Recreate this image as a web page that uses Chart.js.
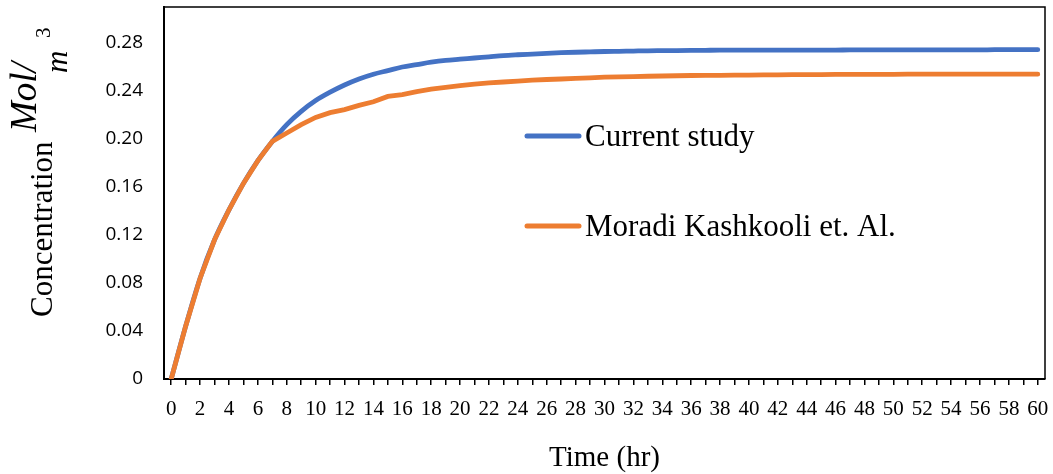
<!DOCTYPE html>
<html>
<head>
<meta charset="utf-8">
<script src="https://cdn.jsdelivr.net/npm/chart.js@4"></script>
<style>
  html, body { margin: 0; padding: 0; background: #fff; }
  #wrap { width: 1053px; height: 474px; position: relative; }
</style>
</head>
<body>
<div id="wrap"><canvas id="concChart"></canvas></div>
<script>
// time (hr), one category per hour
const timeHours = [0, 1, 2, 3, 4, 5, 6, 7, 8, 9, 10, 11, 12, 13, 14, 15, 16, 17, 18, 19, 20,
    21, 22, 23, 24, 25, 26, 27, 28, 29, 30, 31, 32, 33, 34, 35, 36, 37, 38, 39, 40,
    41, 42, 43, 44, 45, 46, 47, 48, 49, 50, 51, 52, 53, 54, 55, 56, 57, 58, 59, 60];

// Current study
const currentStudy = [0, 0.044, 0.084, 0.116, 0.141, 0.163, 0.182, 0.198, 0.212, 0.223, 0.232,
    0.239, 0.245, 0.25, 0.254, 0.257, 0.26, 0.262, 0.264, 0.2655, 0.2665,
    0.2675, 0.2685, 0.2695, 0.2702, 0.2708, 0.2714, 0.2719, 0.2723, 0.2726, 0.2729,
    0.2731, 0.2733, 0.2735, 0.2736, 0.2737, 0.2738, 0.2739, 0.274, 0.274, 0.274,
    0.274, 0.274, 0.274, 0.2741, 0.2741, 0.2741, 0.2742, 0.2742, 0.2742, 0.2742,
    0.2742, 0.2743, 0.2743, 0.2743, 0.2743, 0.2743, 0.2744, 0.2744, 0.2744, 0.2744];

// Moradi Kashkooli et. Al.
const moradiKashkooli = [0, 0.044, 0.084, 0.116, 0.141, 0.163, 0.182, 0.198, 0.205, 0.212, 0.218,
    0.222, 0.2245, 0.228, 0.231, 0.2355, 0.237, 0.2395, 0.2415, 0.243, 0.2445,
    0.2457, 0.2467, 0.2475, 0.2483, 0.249, 0.2496, 0.25, 0.2505, 0.251, 0.2515,
    0.2518, 0.252, 0.2523, 0.2525, 0.2527, 0.2529, 0.253, 0.2531, 0.2532, 0.2533,
    0.2534, 0.2535, 0.2536, 0.2537, 0.2537, 0.2538, 0.2538, 0.2539, 0.2539, 0.2539,
    0.254, 0.254, 0.254, 0.254, 0.254, 0.254, 0.254, 0.254, 0.254, 0.254];

const yTicks = [0, 0.04, 0.08, 0.12, 0.16, 0.2, 0.24, 0.28];
const yTickLabels = ["0", "0.04", "0.08", "0.12", "0.16", "0.20", "0.24", "0.28"];

const seriesNames = ["Current study", "Moradi Kashkooli et. Al."];
const seriesColors = ["#4472C4", "#ED7D31"];

function noPadding(scale) {
    scale.paddingTop = 0;
    scale.paddingBottom = 0;
    scale.paddingLeft = 0;
    scale.paddingRight = 0;
}

// рамка вокруг области графика
const frameBox = {
    id: "frameBox",
    afterDraw(chart) {
        const { ctx, chartArea: a } = chart;
        ctx.save();
        ctx.strokeStyle = "#000";
        ctx.lineWidth = 1.5;
        ctx.beginPath();
        ctx.moveTo(a.left, a.top);
        ctx.lineTo(a.right, a.top);
        ctx.lineTo(a.right, a.bottom);
        ctx.stroke();
        ctx.restore();
    },
};

// легенда внутри области графика
const innerLegend = {
    id: "innerLegend",
    afterDraw(chart) {
        const ctx = chart.ctx;
        const rows = [146, 236];
        ctx.save();
        ctx.font = "31px 'Liberation Serif'";
        ctx.textBaseline = "alphabetic";
        ctx.textAlign = "left";
        chart.data.datasets.forEach((ds, i) => {
            const y = rows[i];
            ctx.strokeStyle = ds.borderColor;
            ctx.lineWidth = 5;
            ctx.lineCap = "round";
            ctx.beginPath();
            ctx.moveTo(527, y - 10);
            ctx.lineTo(579, y - 10);
            ctx.stroke();
            ctx.fillStyle = "#000";
            ctx.fillText(ds.label, 585, y);
        });
        ctx.restore();
    },
};

// подпись оси Y: Concentration Mol/m³
const yTitle = {
    id: "yTitle",
    afterDraw(chart) {
        const ctx = chart.ctx;
        const parts = [
            { text: "Concentration", font: "31px 'Liberation Serif'", x: 52, y: 317 },
            { text: "Mol/", font: "italic 37px 'Liberation Serif'", x: 36, y: 132 },
            { text: "m", font: "italic 31px 'Liberation Serif'", x: 67, y: 73 },
            { text: "3", font: "21px 'Liberation Serif'", x: 50, y: 38 },
        ];
        ctx.save();
        ctx.fillStyle = "#000";
        ctx.textAlign = "left";
        ctx.textBaseline = "alphabetic";
        parts.forEach((p) => {
            ctx.save();
            ctx.translate(p.x, p.y);
            ctx.rotate(-Math.PI / 2);
            ctx.font = p.font;
            ctx.fillText(p.text, 0, 0);
            ctx.restore();
        });
        ctx.restore();
    },
};

const ctx1 = document.getElementById("concChart").getContext("2d");
new Chart(ctx1, {
    type: "line",
    data: {
        labels: timeHours,
        datasets: [
            {
                label: seriesNames[0],
                data: currentStudy,
                borderColor: seriesColors[0],
                borderWidth: 4.8,
                pointRadius: 0,
                pointHoverRadius: 0,
                cubicInterpolationMode: "monotone",
                borderCapStyle: "round",
                fill: false,
                order: 1,
            },
            {
                label: seriesNames[1],
                data: moradiKashkooli,
                borderColor: seriesColors[1],
                borderWidth: 4.8,
                pointRadius: 0,
                pointHoverRadius: 0,
                tension: 0,
                borderCapStyle: "round",
                fill: false,
                order: 0,
            },
        ],
    },
    options: {
        responsive: true,
        maintainAspectRatio: false,
        animation: false,
        layout: { autoPadding: false, padding: { top: 7, right: 8, left: 0, bottom: 0 } },
        plugins: {
            legend: { display: false },
            tooltip: { enabled: false },
        },
        scales: {
            x: {
                type: "category",
                offset: true,
                grid: {
                    display: true,
                    drawOnChartArea: false,
                    drawTicks: true,
                    tickLength: 6,
                    offset: false,
                    color: "#000",
                    lineWidth: 1.5,
                },
                border: { color: "#000", width: 2 },
                ticks: {
                    autoSkip: false,
                    maxRotation: 0,
                    padding: 12,
                    color: "#000",
                    font: { family: "'Liberation Serif'", size: 21 },
                    callback: (v, i) => (i % 2 === 0 ? String(timeHours[i]) : ""),
                },
                title: {
                    display: true,
                    text: "Time (hr)",
                    color: "#000",
                    font: { family: "'Liberation Serif'", size: 29, lineHeight: 1 },
                    padding: { top: 0, bottom: 1 },
                },
                afterFit(scale) {
                    scale.height = 95;
                    noPadding(scale);
                },
            },
            y: {
                min: 0,
                max: 0.31,
                grid: { display: false, drawTicks: false },
                border: { color: "#000", width: 2 },
                afterBuildTicks(scale) {
                    scale.ticks = yTicks.map((v) => ({ value: v }));
                },
                ticks: {
                    padding: 21,
                    color: "#000",
                    font: { family: "'Open Sans'", size: 19 },
                    callback: (v) => yTickLabels[yTicks.indexOf(v)],
                },
                afterFit(scale) {
                    scale.width = 164;
                    noPadding(scale);
                },
            },
        },
    },
    plugins: [frameBox, innerLegend, yTitle],
});
</script>
</body>
</html>
